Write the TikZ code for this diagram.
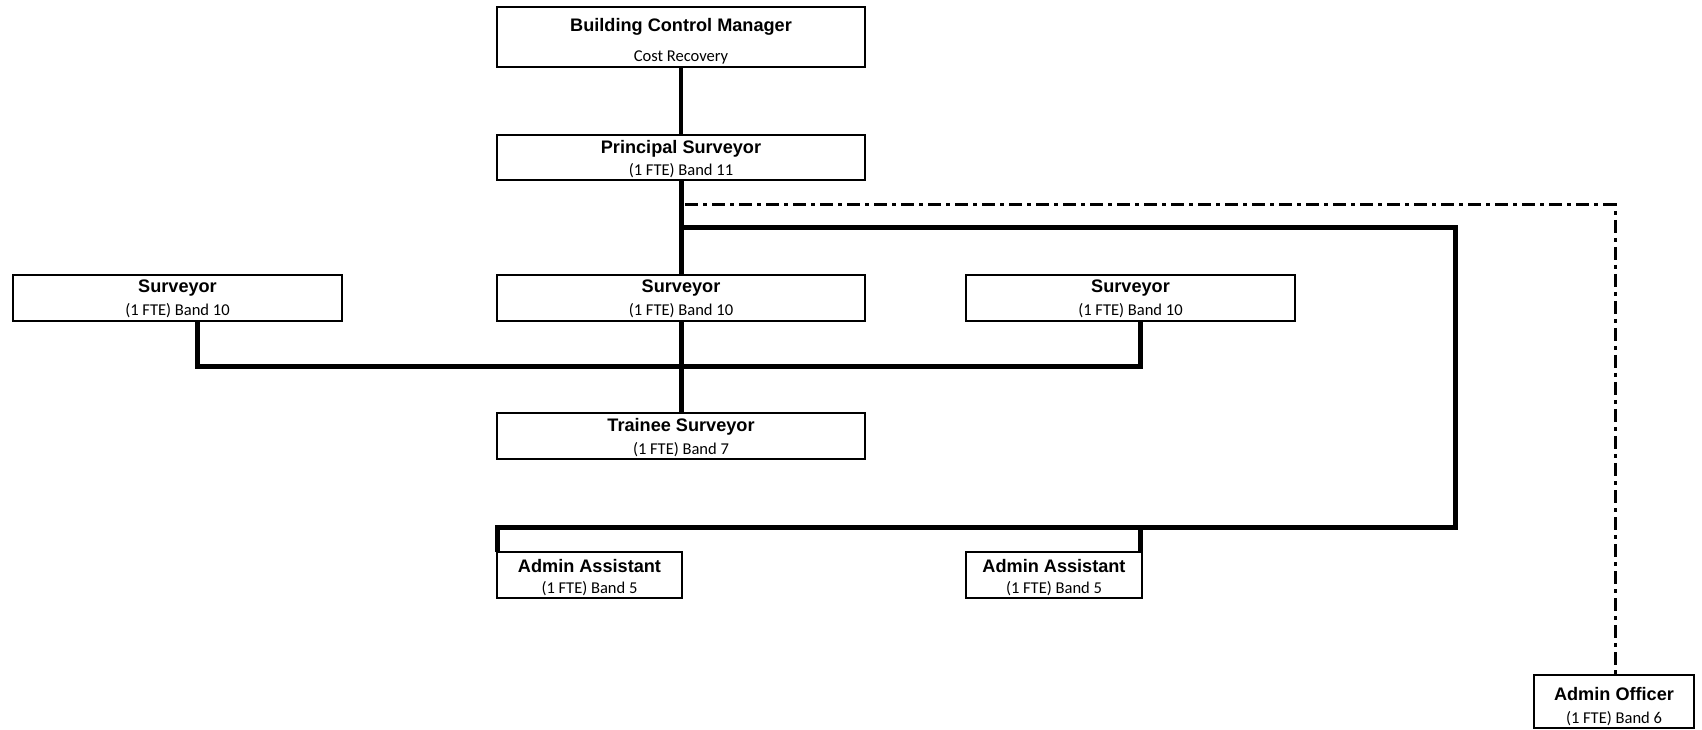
\documentclass[tikz,border=0pt]{standalone}
\usepackage{fontspec}
\setmainfont{Carlito}
\newfontfamily\arialfont{Liberation Sans}
\usetikzlibrary{fit,calc}
\begin{document}
\begin{tikzpicture}[x=0.75pt,y=-0.75pt,
  box/.style={draw, line width=1.5pt, inner sep=0pt, outer sep=0pt},
  ttl/.style={anchor=base, inner sep=0pt, font=\arialfont\bfseries\fontsize{13.6}{16}\selectfont},
  sub/.style={anchor=base, inner sep=0pt, font=\fontsize{12.4}{14}\selectfont},
  thinline/.style={line width=2.6pt},
  boldline/.style={line width=3.75pt, line join=miter},
  ddline/.style={line width=2.25pt, line join=miter, dash pattern=on 9.75pt off 3.75pt on 3pt off 3.75pt}
]
\useasboundingbox (0,0) rectangle (1702,730);

% boxes
\node[box, fit={(497,7)(865,67)}] (bcm) {};
\node[box, fit={(497,135)(865,180)}] (ps) {};
\node[box, fit={(13,275)(342,321)}] (s1) {};
\node[box, fit={(497,275)(865,321)}] (s2) {};
\node[box, fit={(966,275)(1295,321)}] (s3) {};
\node[box, fit={(497,413)(865,459)}] (ts) {};
\node[box, fit={(497,552)(682,598)}] (aa1) {};
\node[box, fit={(966,552)(1142,598)}] (aa2) {};
\node[box, fit={(1534,675)(1694,728)}] (ao) {};

% texts
\node[ttl] (bcm-t) at (681,32) {Building Control Manager};
\node[sub] (bcm-s) at (681,62) {Cost Recovery};
\node[ttl] (ps-t) at (681,154) {Principal Surveyor};
\node[sub] (ps-s) at (681,176) {(1 FTE) Band 11};
\node[ttl] (s1-t) at (177.5,293) {Surveyor};
\node[sub] (s1-s) at (177.5,316) {(1 FTE) Band 10};
\node[ttl] (s2-t) at (681,293) {Surveyor};
\node[sub] (s2-s) at (681,316) {(1 FTE) Band 10};
\node[ttl] (s3-t) at (1130.5,293) {Surveyor};
\node[sub] (s3-s) at (1130.5,316) {(1 FTE) Band 10};
\node[ttl] (ts-t) at (681,432) {Trainee Surveyor};
\node[sub] (ts-s) at (681,455) {(1 FTE) Band 7};
\node[ttl] (aa1-t) at (589.5,572) {Admin Assistant};
\node[sub] (aa1-s) at (589.5,593) {(1 FTE) Band 5};
\node[ttl] (aa2-t) at (1054,572) {Admin Assistant};
\node[sub] (aa2-s) at (1054,593) {(1 FTE) Band 5};
\node[ttl] (ao-t) at (1614,700) {Admin Officer};
\node[sub] (ao-s) at (1614,723) {(1 FTE) Band 6};

% connectors
\draw[thinline] (bcm.south) -- (ps.north);
\draw[boldline] (ps.south) -- (s2.north);
\draw[boldline] (s2.south) -- (ts.north);

\coordinate (jtop) at (681,228);
\coordinate (jr) at (1455,228);
\coordinate (jbot) at (1455,527);
\coordinate (ja1) at (497,527);
\coordinate (ja2) at (1140,527);
\draw[boldline] (jtop) -- (jr) -- (jbot) -- (ja1) -- (ja1 |- aa1.north);
\draw[boldline] (ja2) -- (ja2 |- aa2.north);

\coordinate (b1) at (197,367);
\coordinate (b3) at (1140,367);
\draw[boldline] (b1 |- s1.south) -- (b1) -- (b3) -- (b3 |- s3.south);

\coordinate (d0) at (685,205);
\coordinate (d1) at (1615,205);
\draw[ddline] (d0) -- (d1) -- (d1 |- ao.north);
\end{tikzpicture}
\end{document}
